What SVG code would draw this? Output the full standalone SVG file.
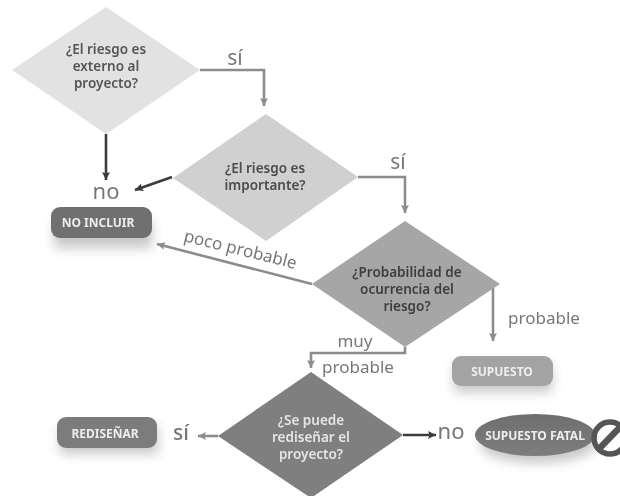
<svg xmlns="http://www.w3.org/2000/svg" width="620" height="496" viewBox="0 0 620 496">
<defs>
<filter id="soft" x="-5%" y="-5%" width="110%" height="110%"><feGaussianBlur stdDeviation="0.45"/></filter>
<filter id="sh" x="-30%" y="-50%" width="160%" height="260%"><feGaussianBlur stdDeviation="6"/></filter>
<linearGradient id="ell" x1="0" y1="0" x2="0" y2="1"><stop offset="0" stop-color="#6f6f6f"/><stop offset="1" stop-color="#7d7d7d"/></linearGradient>
<marker id="ad" markerUnits="userSpaceOnUse" markerWidth="10" markerHeight="10" refX="8" refY="4" orient="auto"><path d="M0 0L8 4L0 8L1.5 4Z" fill="#3a3a3a"/></marker>
<marker id="am" markerUnits="userSpaceOnUse" markerWidth="10" markerHeight="10" refX="8" refY="4" orient="auto"><path d="M0 0L8 4L0 8L1.5 4Z" fill="#8c8c8c"/></marker>
</defs>
<style>
text{font-family:"Noto Sans","Open Sans","DejaVu Sans",sans-serif;text-anchor:middle}
.q{font-size:13.5px;font-weight:600}
.b{font-size:12px;font-weight:700;fill:#eeeeee}
.l{font-size:17px;fill:#777777}
.big{font-size:21px;fill:#777777}
.c{fill:none;stroke-width:2.6}
.dk{stroke:#3a3a3a;marker-end:url(#ad)}
.md{stroke:#8c8c8c;marker-end:url(#am)}
</style>
<rect width="620" height="496" fill="#ffffff"/>
<g filter="url(#soft)">
<g id="shadows" filter="url(#sh)" fill="#000000" opacity="0.22">
<rect x="54" y="220" width="98" height="28"/>
<rect x="454" y="364" width="98" height="28"/>
<rect x="60" y="426" width="98" height="28"/>
<ellipse cx="538" cy="444" rx="58" ry="19"/>
</g>
<g id="connectors">
<path class="c md" d="M200 70H264V106"/>
<path class="c dk" d="M106 134V180"/>
<path class="c dk" d="M172 177L135 190"/>
<path class="c md" d="M358 177H405V213"/>
<path class="c md" d="M312 284L157 244"/>
<path class="c md" d="M493 288V341"/>
<path class="c md" d="M405 347V353H311V368"/>
<path class="c md" d="M218 436H198"/>
<path class="c dk" d="M403 435H436"/>
</g>
<g id="d1"><path d="M106 7L200 70L106 134L12 70Z" fill="#e2e2e2"/>
<text class="q" x="106" y="54" fill="#555555">¿El riesgo es</text><text class="q" x="106" y="71" fill="#555555">externo al</text><text class="q" x="106" y="88" fill="#555555">proyecto?</text></g>
<g id="d2"><path d="M266 114L358 177L266 241L173 178Z" fill="#d0d0d0"/>
<text class="q" x="265" y="173" fill="#4c4c4c">¿El riesgo es</text><text class="q" x="265" y="190" fill="#4c4c4c">importante?</text></g>
<g id="d3"><path d="M405 221L500 284L405 347L312 284Z" fill="#a6a6a6"/>
<text class="q" x="407" y="277" fill="#3e3e3e">¿Probabilidad de</text><text class="q" x="407" y="294" fill="#3e3e3e">ocurrencia del</text><text class="q" x="407" y="311" fill="#3e3e3e">riesgo?</text></g>
<g id="d4"><path d="M311 372L403 435L311 498L218 436Z" fill="#7f7f7f"/>
<text class="q" x="311" y="425" fill="#e6e6e6">¿Se puede</text><text class="q" x="311" y="442" fill="#e6e6e6">rediseñar el</text><text class="q" x="311" y="459" fill="#e6e6e6">proyecto?</text></g>
<g id="n1"><rect x="51" y="207" width="101" height="31" rx="9" fill="#6f6f6f"/><text class="b" x="98" y="227">NO INCLUIR</text></g>
<g id="n2"><rect x="452" y="356" width="101" height="30" rx="9" fill="#a3a3a3"/><text class="b" x="502" y="376">SUPUESTO</text></g>
<g id="n3"><rect x="57" y="417" width="100" height="31" rx="9" fill="#7b7b7b"/><text class="b" x="105" y="438">REDISEÑAR</text></g>
<g id="n4"><ellipse cx="535" cy="435" rx="60" ry="21" fill="url(#ell)"/><text class="b" x="535" y="440">SUPUESTO FATAL</text></g>
<g id="n5" fill="none" stroke="#555555" stroke-width="5.5"><circle cx="610" cy="438" r="16"/><path d="M597 451L623 424" stroke-width="6.5"/></g>
<g id="labels">
<text class="big" x="235" y="65">sí</text>
<text class="big" x="106" y="199" style="font-size:22px">no</text>
<text class="big" x="398" y="169">sí</text>
<text class="l" x="239" y="255" transform="rotate(14 239 255)">poco probable</text>
<text class="l" x="544" y="324">probable</text>
<text class="l" x="355" y="347">muy</text>
<text class="l" x="358" y="373">probable</text>
<text class="big" x="181" y="440" font-weight="500">sí</text>
<text class="big" x="451" y="439" style="font-size:22px">no</text>
</g>
</g>
</svg>
